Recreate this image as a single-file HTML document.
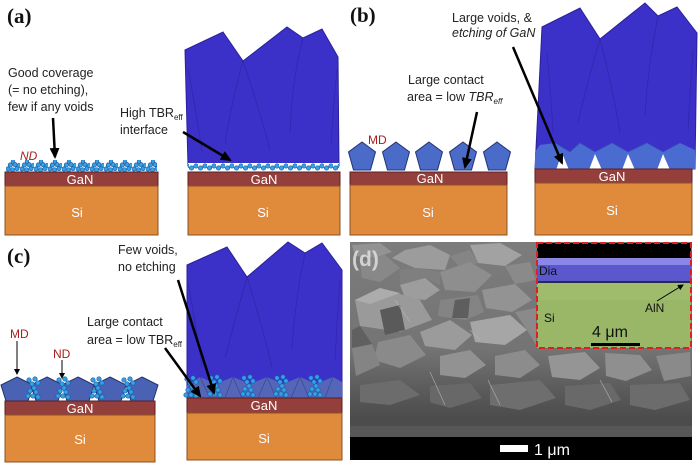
<!DOCTYPE html>
<html><head><meta charset="utf-8"><style>
html,body{margin:0;padding:0;background:#fff;width:700px;height:463px;overflow:hidden}
svg{display:block}
text{font-family:"Liberation Sans",sans-serif}
.lbl{font-family:"Liberation Serif",serif;font-weight:bold;font-size:21px;fill:#111}
.t{font-size:12.5px;fill:#222}
.w{fill:#fff;font-size:13px;text-anchor:middle}
.red{fill:#a81c1c;font-size:12px}
</style></head><body>
<svg width="700" height="463" viewBox="0 0 700 463" xmlns="http://www.w3.org/2000/svg">
<defs>
<marker id="ah" markerWidth="11" markerHeight="10" refX="9" refY="5" orient="auto" markerUnits="userSpaceOnUse"><path d="M0,0 L11,5 L0,10 z" fill="#000"/></marker>
<marker id="ahi" markerWidth="6" markerHeight="6" refX="5" refY="3" orient="auto" markerUnits="userSpaceOnUse"><path d="M0,0 L6,3 L0,6 z" fill="#000"/></marker>
<pattern id="dotsA" width="14" height="12" patternUnits="userSpaceOnUse" x="6" y="160">
<g fill="#35a2e6" stroke="#1a5fa8" stroke-width="0.7">
<circle cx="2" cy="9" r="2.1"/><circle cx="6.5" cy="9.8" r="2.1"/><circle cx="11" cy="8.6" r="2.1"/>
<circle cx="4.3" cy="5" r="2.1"/><circle cx="9" cy="4.6" r="2.1"/><circle cx="13" cy="5.5" r="2"/>
<circle cx="7" cy="1.5" r="1.8"/>
</g></pattern>
<pattern id="dotsB" width="9" height="10" patternUnits="userSpaceOnUse" x="189" y="162">
<g fill="#35a2e6" stroke="#1a5fa8" stroke-width="0.7">
<circle cx="2.5" cy="6" r="2.2"/><circle cx="7" cy="4" r="2.2"/>
</g></pattern>
<g id="cl" fill="#35a2e6" stroke="#1a5fa8" stroke-width="0.7">
<circle cx="-4" cy="-9" r="2.2"/><circle cx="2" cy="-10" r="2.2"/><circle cx="5" cy="-6" r="2.2"/>
<circle cx="-1" cy="-5" r="2.2"/><circle cx="1" cy="-1" r="2.2"/><circle cx="-3" cy="2" r="2.2"/>
<circle cx="3" cy="3" r="2.2"/><circle cx="-5" cy="7" r="2.2"/><circle cx="0" cy="7" r="2.2"/><circle cx="5" cy="8" r="2.2"/>
</g>
<g id="pentB"><polygon points="0,0 13.5,10 8.5,28 -8.5,28 -13.5,10" fill="#4a6bc8" stroke="#223377" stroke-width="1"/></g>
<g id="pentC"><polygon points="0,0 16,8 11,24 -11,24 -16,8" fill="#4a62b4" stroke="#25306a" stroke-width="1"/></g>
<linearGradient id="semg" x1="0" y1="0" x2="0" y2="1">
<stop offset="0" stop-color="#7c7c7c"/><stop offset="0.55" stop-color="#747474"/><stop offset="0.75" stop-color="#5c5c5c"/><stop offset="0.92" stop-color="#4a4a4a"/><stop offset="1" stop-color="#555"/>
</linearGradient>
</defs>

<!-- ===== (a) ===== -->
<text class="lbl" x="7" y="23">(a)</text>
<text class="t" x="8" y="77">Good coverage</text>
<text class="t" x="8" y="94">(= no etching),</text>
<text class="t" x="8" y="111">few if any voids</text>
<text class="red" x="20" y="160" font-style="italic">ND</text>
<rect x="6" y="160" width="151" height="12" fill="url(#dotsA)"/>
<rect x="5" y="172" width="153" height="14" fill="#953f3d" stroke="#5c1f1f" stroke-width="1"/>
<rect x="5" y="186" width="153" height="49" fill="#e08a3c" stroke="#8a5224" stroke-width="1"/>
<text class="w" x="80" y="184">GaN</text>
<text class="w" x="77" y="217" font-size="12">Si</text>
<line x1="53" y1="118" x2="55" y2="157" stroke="#000" stroke-width="2.5" marker-end="url(#ah)"/>

<polygon points="185,50 223,32 243,61 287,27 303,38 322,29 338,57 339,166 188,166" fill="#3b31c9" stroke="#2a219a" stroke-width="1"/>
<g stroke="#2a1f98" stroke-width="0.8" fill="none" opacity="0.6">
<path d="M243,61 Q232,100 225,143"/><path d="M243,61 Q258,105 270,150"/><path d="M303,38 Q292,80 290,132"/>
<path d="M188,68 Q196,110 202,152"/><path d="M337,70 Q333,110 331,145"/>
</g>
<rect x="188" y="163" width="151" height="9" fill="#fff"/>
<rect x="188" y="162" width="151" height="10" fill="url(#dotsB)"/>
<rect x="188" y="172" width="152" height="14" fill="#953f3d" stroke="#5c1f1f" stroke-width="1"/>
<rect x="188" y="186" width="152" height="49" fill="#e08a3c" stroke="#8a5224" stroke-width="1"/>
<text class="w" x="264" y="184">GaN</text>
<text class="w" x="263" y="217" font-size="12">Si</text>
<text class="t" x="120" y="117">High TBR<tspan font-size="8" dy="3">eff</tspan></text>
<text class="t" x="120" y="134">interface</text>
<line x1="183" y1="132" x2="230" y2="160" stroke="#000" stroke-width="2.5" marker-end="url(#ah)"/>

<!-- ===== (b) ===== -->
<text class="lbl" x="350" y="22">(b)</text>
<text class="t" x="452" y="22">Large voids, &amp;</text>
<text class="t" x="452" y="37" font-style="italic">etching of GaN</text>
<text class="t" x="408" y="84">Large contact</text>
<text class="t" x="407" y="101">area = low <tspan font-style="italic">TBR</tspan><tspan font-size="8" dy="3" font-style="italic">eff</tspan></text>
<text class="red" x="368" y="144">MD</text>
<use href="#pentB" x="362" y="142"/><use href="#pentB" x="396" y="142"/><use href="#pentB" x="429" y="142"/>
<use href="#pentB" x="463" y="142"/><use href="#pentB" x="497" y="142"/>
<rect x="350" y="172" width="157" height="13" fill="#953f3d" stroke="#5c1f1f" stroke-width="1"/>
<rect x="350" y="185" width="157" height="50" fill="#e08a3c" stroke="#8a5224" stroke-width="1"/>
<text class="w" x="430" y="183">GaN</text>
<text class="w" x="428" y="217" font-size="12">Si</text>
<line x1="477" y1="112" x2="465" y2="167" stroke="#000" stroke-width="2.5" marker-end="url(#ah)"/>

<polygon points="542,27 580,8 600,39 645,3 658,16 677,7 697,33 695,169 535,169" fill="#3b31c9" stroke="#2a219a" stroke-width="1"/>
<g stroke="#2a1f98" stroke-width="0.8" fill="none" opacity="0.6">
<path d="M600,39 Q588,80 578,122"/><path d="M600,39 Q612,85 620,132"/><path d="M658,16 Q648,65 645,115"/>
<path d="M547,53 Q551,95 553,132"/><path d="M693,50 Q690,90 688,130"/>
</g>
<polygon points="535,152 540,145 555,143 570,152 580,143 595,152 612,143 628,152 647,143 663,152 680,143 695,150 695,169 535,169" fill="#4a6bd0"/>
<g stroke="#3a55b0" stroke-width="0.7" fill="none">
<path d="M555,143 L570,152 M580,143 L595,152 M595,152 L612,143 M612,143 L628,152 M628,152 L647,143 M647,143 L663,152 M663,152 L680,143 M570,152 L580,143"/>
</g>
<g fill="#fff">
<polygon points="556,170 562,153 569,170"/><polygon points="589,170 595,154 602,170"/>
<polygon points="622,170 628,154 635,170"/><polygon points="657,170 663,154 670,170"/>
</g>
<rect x="535" y="169" width="157" height="14" fill="#953f3d" stroke="#5c1f1f" stroke-width="1"/>
<rect x="535" y="183" width="157" height="52" fill="#e08a3c" stroke="#8a5224" stroke-width="1"/>
<text class="w" x="612" y="181">GaN</text>
<text class="w" x="612" y="215" font-size="12">Si</text>
<line x1="513" y1="47" x2="562" y2="163" stroke="#000" stroke-width="2.5" marker-end="url(#ah)"/>

<!-- ===== (c) ===== -->
<text class="lbl" x="7" y="263">(c)</text>
<text class="red" x="10" y="338">MD</text>
<text class="red" x="53" y="358">ND</text>
<line x1="17" y1="341" x2="17" y2="374" stroke="#000" stroke-width="1" marker-end="url(#ahi)"/>
<line x1="62" y1="360" x2="62" y2="378" stroke="#000" stroke-width="1" marker-end="url(#ahi)"/>
<use href="#pentC" x="17" y="377"/><use href="#pentC" x="47" y="377"/><use href="#pentC" x="78" y="377"/>
<use href="#pentC" x="110" y="377"/><use href="#pentC" x="142" y="377"/>
<use href="#cl" x="33" y="389"/><use href="#cl" x="63" y="389"/><use href="#cl" x="97" y="389"/><use href="#cl" x="128" y="389"/>
<rect x="5" y="401" width="150" height="14" fill="#953f3d" stroke="#5c1f1f" stroke-width="1"/>
<rect x="5" y="415" width="150" height="47" fill="#e08a3c" stroke="#8a5224" stroke-width="1"/>
<text class="w" x="80" y="413">GaN</text>
<text class="w" x="80" y="444" font-size="12">Si</text>

<text class="t" x="87" y="326">Large contact</text>
<text class="t" x="87" y="344">area = low TBR<tspan font-size="8" dy="3">eff</tspan></text>
<text class="t" x="118" y="254">Few voids,</text>
<text class="t" x="118" y="271">no etching</text>

<polygon points="187,265 227,247 247,277 288,242 305,253 322,243 342,270 342,398 187,398" fill="#3b31c9" stroke="#2a219a" stroke-width="1"/>
<g stroke="#2a1f98" stroke-width="0.8" fill="none" opacity="0.6">
<path d="M247,277 Q235,320 225,358"/><path d="M247,277 Q262,325 272,367"/><path d="M305,253 Q295,300 292,348"/>
<path d="M188,283 Q196,325 202,367"/><path d="M340,280 Q337,320 335,360"/>
</g>
<polygon points="187,398 187,385 200,377 216,384 233,377 250,384 267,377 283,384 300,377 316,384 333,377 342,382 342,398" fill="#5566b8"/>
<g stroke="#3a4590" stroke-width="0.7" fill="none">
<path d="M200,377 L210,398 M233,377 L225,398 M233,377 L242,398 M267,377 L258,398 M267,377 L276,398 M300,377 L291,398 M300,377 L309,398 M333,377 L325,398"/>
</g>
<use href="#cl" x="191" y="388"/><use href="#cl" x="215" y="387"/><use href="#cl" x="248" y="387"/><use href="#cl" x="281" y="387"/><use href="#cl" x="315" y="387"/>
<rect x="187" y="398" width="155" height="15" fill="#953f3d" stroke="#5c1f1f" stroke-width="1"/>
<rect x="187" y="413" width="155" height="47" fill="#e08a3c" stroke="#8a5224" stroke-width="1"/>
<text class="w" x="264" y="410">GaN</text>
<text class="w" x="264" y="443" font-size="12">Si</text>
<line x1="165" y1="348" x2="200" y2="396" stroke="#000" stroke-width="2.5" marker-end="url(#ah)"/>
<line x1="178" y1="280" x2="214" y2="393" stroke="#000" stroke-width="2.5" marker-end="url(#ah)"/>

<!-- ===== (d) SEM ===== -->
<rect x="350" y="242" width="342" height="195" fill="url(#semg)"/>
<g stroke="none">
<polygon points="352,245 380,243 392,252 375,258 355,256" fill="#939393"/>
<polygon points="392,258 405,250 430,245 450,255 445,270 415,268" fill="#9c9c9c"/>
<polygon points="470,245 500,243 522,255 505,266 478,263" fill="#a2a2a2"/>
<polygon points="450,256 470,250 478,263 462,270" fill="#858585"/>
<polygon points="505,266 530,262 536,280 515,284" fill="#8a8a8a"/>
<polygon points="360,262 385,255 400,268 380,282 362,278" fill="#888"/>
<polygon points="400,270 418,268 440,272 440,285 425,278 400,285" fill="#7f7f7f"/>
<polygon points="440,272 470,262 492,275 475,292 445,290" fill="#8e8e8e"/>
<polygon points="400,285 425,278 440,290 425,300 405,298" fill="#9d9d9d"/>
<polygon points="355,300 380,288 420,300 432,320 400,332 360,326" fill="#9a9a9a"/>
<polygon points="355,300 380,288 400,293 370,304" fill="#acacac"/>
<polygon points="482,290 515,284 532,300 512,312 486,308" fill="#939393"/>
<polygon points="440,300 478,295 484,312 465,320 438,316" fill="#848484"/>
<polygon points="420,332 450,320 472,335 455,350 425,346" fill="#9b9b9b"/>
<polygon points="470,322 510,315 527,330 505,345 475,342" fill="#a6a6a6"/>
<polygon points="515,312 536,308 536,345 527,330" fill="#8a8a8a"/>
<polygon points="378,342 410,335 426,355 400,368 374,360" fill="#8a8a8a"/>
<polygon points="352,348 372,344 380,365 356,376" fill="#848484"/>
<polygon points="440,356 470,350 486,365 465,378 440,375" fill="#929292"/>
<polygon points="495,356 525,350 540,365 520,378 495,375" fill="#8c8c8c"/>
<polygon points="548,356 585,352 600,368 580,380 552,377" fill="#959595"/>
<polygon points="605,353 640,355 652,370 626,381 606,376" fill="#8f8f8f"/>
<polygon points="656,356 690,352 691,376 664,381" fill="#8a8a8a"/>
<polygon points="380,310 400,305 405,330 385,335" fill="#5a5a5a"/>
<polygon points="455,300 470,298 468,318 452,318" fill="#5e5e5e"/>
<polygon points="352,330 360,326 372,344 352,348" fill="#606060"/>
<polygon points="360,385 400,380 420,395 390,405 360,402" fill="#6c6c6c"/>
<polygon points="430,386 470,383 482,398 450,408 430,402" fill="#686868"/>
<polygon points="490,385 540,380 556,398 520,410 490,405" fill="#6e6e6e"/>
<polygon points="565,386 610,383 621,400 590,410 565,405" fill="#696969"/>
<polygon points="630,385 680,383 690,400 655,410 630,405" fill="#6c6c6c"/>
</g>
<g stroke="#b8b8b8" stroke-width="0.8" fill="none" opacity="0.7">
<path d="M430,372 L445,405 M488,380 L500,405 M600,380 L612,402 M470,330 L480,340 M395,300 L410,322"/>
</g>
<rect x="350" y="420" width="342" height="17" fill="#4c4c4c"/>
<rect x="350" y="426" width="342" height="11" fill="#575757"/>
<rect x="350" y="437" width="342" height="23" fill="#000"/>
<rect x="500" y="445" width="28" height="7" fill="#fff"/>
<text x="534" y="455" fill="#fff" font-size="16">1 μm</text>
<text x="352" y="266" font-family="Liberation Serif,serif" font-weight="bold" font-size="21" fill="#e0e0e0" opacity="0.85">(d)</text>

<!-- inset -->
<rect x="537" y="243" width="154" height="105" fill="#9fbc6c"/>
<rect x="537" y="243" width="154" height="15" fill="#000"/>
<rect x="537" y="258" width="154" height="24" fill="#5a58cc"/>
<rect x="537" y="258" width="154" height="7" fill="#8a88e6"/>
<rect x="537" y="281" width="154" height="2" fill="#2a2a50"/>
<rect x="537" y="300" width="154" height="48" fill="#98b466" opacity="0.6"/>
<text x="539" y="275" font-size="12" fill="#111">Dia</text>
<text x="544" y="322" font-size="12" fill="#111">Si</text>
<text x="645" y="312" font-size="12" fill="#111">AlN</text>
<line x1="657" y1="301" x2="683" y2="285" stroke="#000" stroke-width="1" marker-end="url(#ahi)"/>
<text x="592" y="337" font-size="16" fill="#111">4 μm</text>
<rect x="591" y="343" width="49" height="3" fill="#000"/>
<rect x="537" y="243" width="154" height="105" fill="none" stroke="#e02020" stroke-width="2" stroke-dasharray="6,3"/>
</svg>
</body></html>
